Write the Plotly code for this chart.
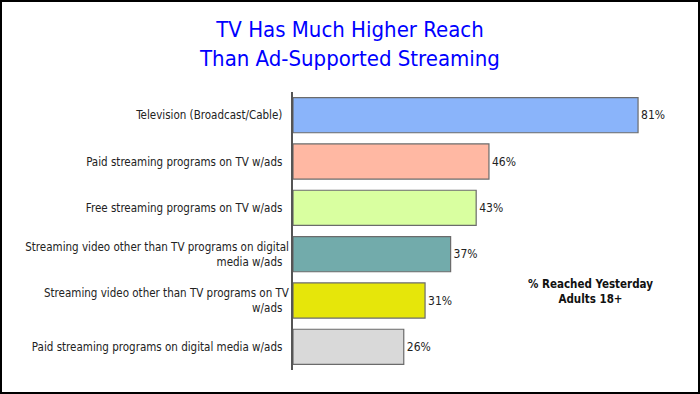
import plotly.graph_objects as go

categories = [
    "Television (Broadcast/Cable)",
    "Paid streaming programs on TV w/ads",
    "Free streaming programs on TV w/ads",
    "Streaming video other than TV programs on digital<br>media w/ads",
    "Streaming video other than TV programs on TV<br>w/ads",
    "Paid streaming programs on digital media w/ads",
]
values = [81, 46, 43, 37, 31, 26]
value_labels = ["81%", "46%", "43%", "37%", "31%", "26%"]
bar_colors = ["#8AB4FA", "#FFB8A3", "#D9FFA0", "#72ABAB", "#E6E60A", "#D9D9D9"]

W, H = 700, 394
ML, MR, MT, MB = 293, 40, 92, 24
PW, PH = W - ML - MR, H - MT - MB
XMAX = PW / 4.26
FONT = "DejaVu Sans Condensed, Tahoma, sans-serif"

fig = go.Figure(go.Bar(
    y=categories,
    x=values,
    orientation="h",
    width=0.76,
    marker=dict(color=bar_colors, line=dict(color="#6b6b6b", width=1.2)),
    text=value_labels,
    textposition="outside",
    cliponaxis=False,
    textfont=dict(family=FONT, size=12, color="#222222"),
))

fig.update_layout(
    width=W, height=H,
    margin=dict(l=ML, r=MR, t=MT, b=MB, autoexpand=False),
    paper_bgcolor="white", plot_bgcolor="white",
    showlegend=False,
    title=dict(
        text="TV Has Much Higher Reach<br>Than Ad-Supported Streaming",
        x=0.5, xref="container", xanchor="center",
        y=1 - 37 / H, yref="container", yanchor="middle",
        font=dict(family=FONT, size=22, color="#0000FF"),
    ),
    xaxis=dict(range=[0, XMAX], visible=False, fixedrange=True, automargin=False),
    yaxis=dict(
        autorange="reversed", automargin=False,
        showline=True, linecolor="#555555", linewidth=1.5,
        ticks="", showgrid=False, ticksuffix="  ",
        tickfont=dict(family=FONT, size=11.5, color="#222222"),
    ),
    font=dict(family=FONT),
    annotations=[dict(
        text="<b>% Reached Yesterday<br>Adults 18+</b>",
        x=(590 - ML) / PW, y=1 - (291 - MT) / PH,
        xref="paper", yref="paper", showarrow=False,
        xanchor="center", yanchor="middle", align="center",
        font=dict(family=FONT, size=11.5, color="#111111"),
    )],
    shapes=[dict(
        type="rect", xref="paper", yref="paper",
        x0=(-ML + 1) / PW, x1=1 + (MR - 1) / PW,
        y0=(-MB + 1) / PH, y1=1 + (MT - 1) / PH,
        line=dict(color="black", width=2), fillcolor="rgba(0,0,0,0)",
    )],
)

fig.write_html(
    "out.html",
    config={"displayModeBar": False},
    post_script="document.body.style.margin='0';document.body.style.overflow='hidden';",
)
